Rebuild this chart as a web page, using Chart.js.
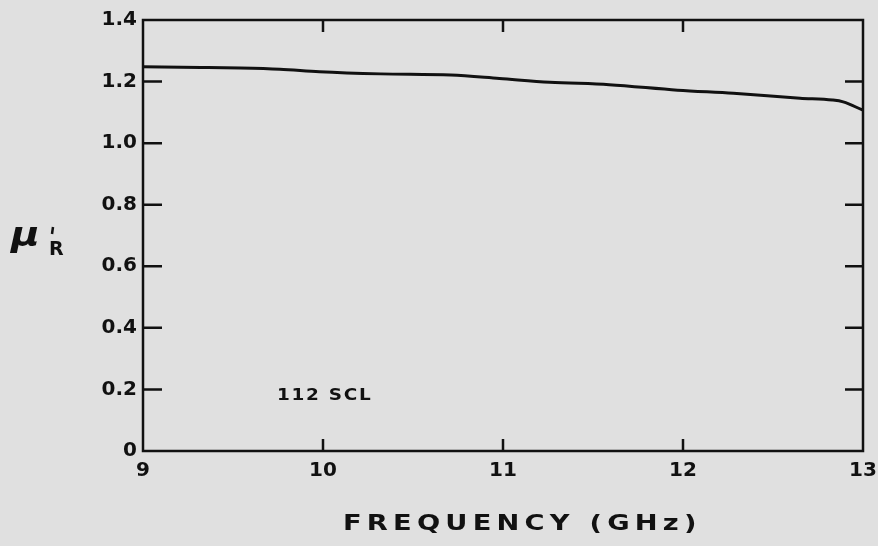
<!DOCTYPE html>
<html>
<head>
<meta charset="utf-8">
<script src="https://cdn.jsdelivr.net/npm/chart.js@4/dist/chart.umd.min.js"></script>
<style>
  body { margin: 0; background: #e0e0e0; }
  canvas { display: block; }
</style>
</head>
<body>
<canvas id="permChart" width="878" height="546"></canvas>
<script>
// frequency (GHz) and real part of relative permeability
const freq = [9.0, 9.32, 9.54, 9.76, 9.98, 10.32, 10.71, 10.98, 11.26, 11.59, 11.97, 12.28, 12.65, 12.83, 12.89, 13.0];
const muR = [1.248, 1.246, 1.244, 1.240, 1.232, 1.225, 1.221, 1.210, 1.198, 1.190, 1.172, 1.162, 1.146, 1.140, 1.134, 1.107];

const xTicks = [9, 10, 11, 12, 13];
const yTicks = [0, 0.2, 0.4, 0.6, 0.8, 1.0, 1.2, 1.4];
const yTickLabels = ['0', '0.2', '0.4', '0.6', '0.8', '1.0', '1.2', '1.4'];

const sampleName = '112 SCL';
const xTitle = 'FREQUENCY (GHz)';

const ink = '#111';
const boldFont = '"DejaVu Sans", sans-serif';

// wide lettering: draw text stretched sideways
function wideText(ctx, text, x, y, font, stretch, spacing) {
    ctx.save();
    ctx.font = font;
    ctx.letterSpacing = spacing + 'px';
    ctx.translate(x, y);
    ctx.scale(stretch, 1);
    ctx.fillText(text, 0, 0);
    ctx.restore();
}

// paper background, frame, inward ticks and loose labels
const paperPlugin = {
    id: 'paper',
    beforeDraw(chart) {
        const ctx = chart.ctx;
        ctx.save();
        ctx.fillStyle = '#e0e0e0';
        ctx.fillRect(0, 0, chart.width, chart.height);
        ctx.restore();
    },
    afterDraw(chart) {
        const ctx = chart.ctx;
        const a = chart.chartArea;
        const xs = chart.scales.x;
        const ys = chart.scales.y;

        ctx.save();
        ctx.strokeStyle = ink;
        ctx.lineWidth = 2.5;
        ctx.strokeRect(a.left, a.top, a.right - a.left, a.bottom - a.top);

        // left and right ticks
        for (let v of yTicks.slice(1, -1)) {
            let py = ys.getPixelForValue(v);
            ctx.beginPath();
            ctx.moveTo(a.left, py);
            ctx.lineTo(a.left + 19, py);
            ctx.moveTo(a.right, py);
            ctx.lineTo(a.right - 18, py);
            ctx.stroke();
        }
        // top and bottom ticks
        for (let v of xTicks.slice(1, -1)) {
            let px = xs.getPixelForValue(v);
            ctx.beginPath();
            ctx.moveTo(px, a.bottom);
            ctx.lineTo(px, a.bottom - 12);
            ctx.moveTo(px, a.top);
            ctx.lineTo(px, a.top + 12);
            ctx.stroke();
        }

        ctx.fillStyle = ink;
        ctx.textBaseline = 'alphabetic';
        ctx.textAlign = 'left';

        // axis title
        wideText(ctx, xTitle, 343, 530, 'bold 21px ' + boldFont, 1.3, 4);

        // sample label
        wideText(ctx, sampleName, 277, 400, 'bold 16px ' + boldFont, 1.15, 1.5);

        // mu'_R
        wideText(ctx, '\u03bc', 11, 246, 'oblique bold 34px ' + boldFont, 1.15, 0);
        ctx.font = 'bold 19px ' + boldFont;
        ctx.fillText('R', 49, 255);
        ctx.lineWidth = 2.5;
        ctx.beginPath();
        ctx.moveTo(53, 227);
        ctx.lineTo(52, 234);
        ctx.stroke();
        ctx.restore();
    }
};

new Chart(document.getElementById('permChart'), {
    type: 'line',
    data: {
        datasets: [{
            data: freq.map((f, i) => ({ x: f, y: muR[i] })),
            borderColor: ink,
            borderWidth: 3,
            pointRadius: 0,
            tension: 0.3,
            cubicInterpolationMode: 'monotone',
            fill: false
        }]
    },
    options: {
        responsive: false,
        animation: false,
        layout: { padding: { left: 0, right: 15, top: 20, bottom: 0 } },
        plugins: {
            legend: { display: false },
            tooltip: { enabled: false }
        },
        scales: {
            x: {
                type: 'linear',
                min: 9,
                max: 13,
                afterBuildTicks: (scale) => { scale.ticks = xTicks.map(v => ({ value: v })); },
                afterFit: (scale) => {
                    scale.height = 95;
                    scale.paddingLeft = 0;
                    scale.paddingRight = 0;
                },
                grid: { drawOnChartArea: false, drawTicks: false },
                border: { display: false },
                ticks: {
                    color: ink,
                    padding: 8,
                    maxRotation: 0,
                    font: { family: boldFont, size: 20, weight: 'bold' },
                    callback: (v) => String(v)
                }
            },
            y: {
                type: 'linear',
                min: 0,
                max: 1.4,
                afterBuildTicks: (scale) => { scale.ticks = yTicks.map(v => ({ value: v })); },
                afterFit: (scale) => {
                    scale.width = 143;
                    scale.paddingTop = 0;
                    scale.paddingBottom = 0;
                },
                grid: { drawOnChartArea: false, drawTicks: false },
                border: { display: false },
                ticks: {
                    color: ink,
                    padding: 6,
                    font: { family: boldFont, size: 20, weight: 'bold' },
                    callback: (v) => yTickLabels[yTicks.indexOf(v)]
                }
            }
        }
    },
    plugins: [paperPlugin]
});
</script>
</body>
</html>
